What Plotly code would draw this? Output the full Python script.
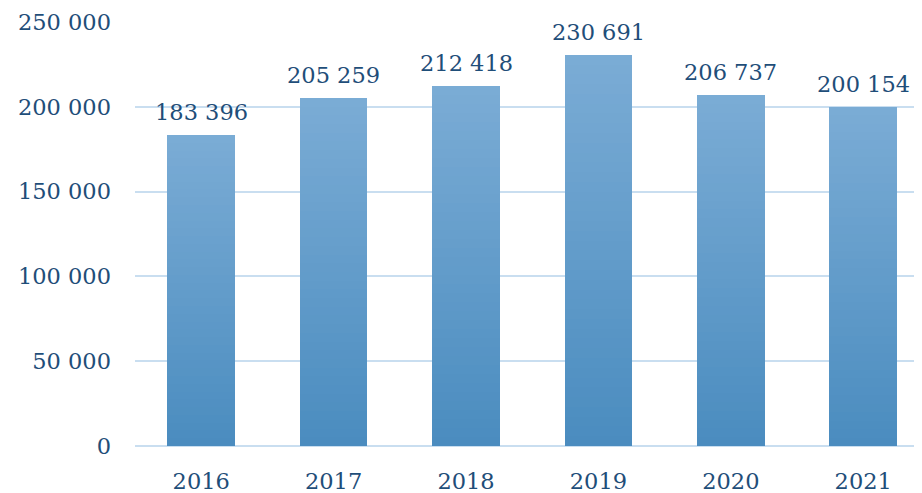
import plotly.graph_objects as go

years = ["2016", "2017", "2018", "2019", "2020", "2021"]
values = [183396, 205259, 212418, 230691, 206737, 200154]
tick_vals = [0, 50000, 100000, 150000, 200000, 250000]
tick_text = ["0", "50 000", "100 000", "150 000", "200 000", "250 000"]

def fmt(v):
    return f"{v:,}".replace(",", " ")

# gradient: stacked slices, light at top, dark at bottom
N = 40
top_rgb = (123, 172, 213)
bot_rgb = (74, 140, 191)

fig = go.Figure()
xs = list(range(len(years)))
for k in range(N):
    t = (k + 0.5) / N
    c = tuple(round(bot_rgb[i] + (top_rgb[i] - bot_rgb[i]) * t) for i in range(3))
    fig.add_trace(go.Bar(
        x=xs, y=[v / N for v in values], width=0.51,
        marker=dict(color=f"rgb{c}", line=dict(width=0)),
        showlegend=False, hoverinfo="skip",
    ))

font_family = "DejaVu Serif"
fsize = 22.5
txt_color = "#1f4e79"

for x, v in zip(xs, values):
    fig.add_annotation(x=x, y=v, text=fmt(v), showarrow=False,
                       yanchor="bottom", yshift=8,
                       font=dict(family=font_family, size=fsize, color=txt_color))

fig.update_layout(
    barmode="stack", bargap=0,
    width=914, height=485,
    margin=dict(l=127, r=0, t=14, b=47, autoexpand=False),
    plot_bgcolor="white", paper_bgcolor="white",
    font=dict(family=font_family, size=fsize, color=txt_color),
)
fig.update_xaxes(range=[-0.5, 5.444], tickvals=xs, ticktext=years,
                 showgrid=False, zeroline=False, showline=False,
                 ticks="", ticklabelstandoff=19, automargin=False,
                 tickfont=dict(family=font_family, size=fsize, color=txt_color))
fig.update_yaxes(range=[0, 250000], tickvals=tick_vals, ticktext=tick_text,
                 showgrid=True, gridcolor="#c9def0", gridwidth=2,
                 zeroline=True, zerolinecolor="#c9def0", zerolinewidth=2,
                 showline=False, ticks="", ticklabelstandoff=23, automargin=False,
                 tickfont=dict(family=font_family, size=fsize, color=txt_color))

fig.write_html("out.html")
